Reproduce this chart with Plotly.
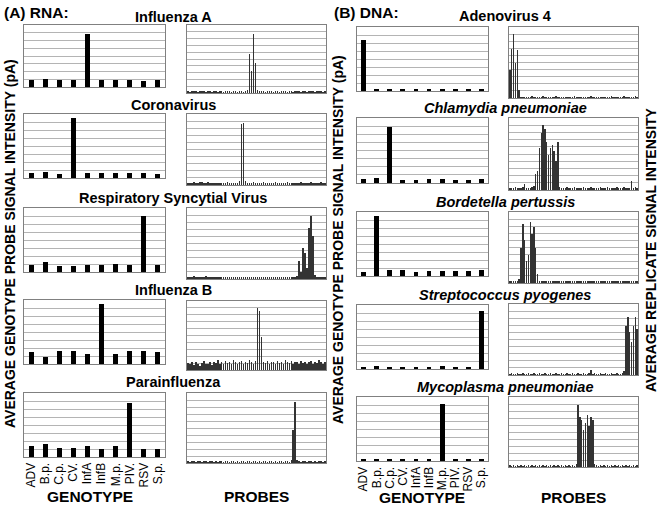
import plotly.graph_objects as go

W, H = 661, 507

genotypes = ["ADV", "B.p.", "C.p.", "CV.", "InfA", "InfB", "M.p.", "PIV.", "RSV", "S.p."]

# ---- RNA panels: genotype bars (gridline units) ----
rna_titles = ["Influenza A", "Coronavirus", "Respiratory Syncytial Virus", "Influenza B", "Parainfluenza"]
bar_infa = [0.85, 1.0, 0.85, 0.85, 6.9, 0.85, 0.9, 0.85, 0.8, 0.9]
bar_cov = [0.63, 0.75, 0.46, 7.5, 0.63, 0.63, 0.63, 0.6, 0.6, 0.5]
bar_rsv = [0.83, 1.2, 0.8, 0.7, 0.9, 0.9, 0.95, 0.83, 7.0, 0.83]
bar_infb = [1.45, 0.9, 1.6, 1.6, 1.25, 7.5, 1.3, 1.67, 1.67, 1.55]
bar_piv = [1.4, 1.6, 1.14, 1.14, 1.43, 1.05, 1.35, 6.7, 1.05, 1.05]

# ---- DNA panels: genotype bars ----
dna_titles = ["Adenovirus 4", "Chlamydia pneumoniae", "Bordetella pertussis",
              "Streptococcus pyogenes", "Mycoplasma pneumoniae"]
bar_adv = [6.4, 0.25, 0.25, 0.2, 0.25, 0.3, 0.25, 0.25, 0.3, 0.25]
bar_cp = [0.53, 0.57, 6.9, 0.4, 0.41, 0.45, 0.45, 0.4, 0.4, 0.45]
bar_bp = [0.55, 7.5, 0.7, 0.75, 0.55, 0.63, 0.67, 0.67, 0.63, 0.7]
bar_sp = [0.3, 0.35, 0.3, 0.25, 0.3, 0.3, 0.35, 0.3, 0.3, 7.25]
bar_mp = [0.2, 0.3, 0.2, 0.2, 0.2, 0.2, 7.1, 0.2, 0.2, 0.2]

# ---- probe replicate intensities (70 probes per panel) ----
probe_infa = [0.3, 0.2, 0.3, 0.25, 0.3, 0.2, 0.35, 0.3, 0.25, 0.2, 0.3, 0.3, 0.2, 0.25, 0.3, 0.2,
              0.3, 0.25, 0.2, 0.3, 0.25, 0.3, 0.2, 0.25, 0.3, 0.2, 0.3, 0.25, 0.2, 0.3, 0.4, 5.8,
              3.2, 8.7, 4.4, 0.4, 0.3, 0.25, 0.3, 0.2, 0.3, 0.25, 0.3, 0.2, 0.25, 0.3, 0.2, 0.3,
              0.25, 0.3, 0.2, 0.3, 0.25, 0.2, 0.3, 0.25, 0.3, 0.2, 0.3, 0.25, 0.2, 0.3, 0.25, 0.3,
              0.2, 0.3, 0.25, 0.3, 0.2, 0.3]
probe_cov = [0.3, 0.35, 0.3, 0.4, 0.3, 0.25, 0.4, 0.45, 0.35, 0.3, 0.4, 0.3, 0.25, 0.3, 0.35, 0.3,
             0.25, 0.3, 0.35, 0.3, 0.4, 0.3, 0.25, 0.3, 0.35, 0.3, 0.5, 8.6, 8.7, 0.5, 0.3, 0.35,
             0.3, 0.4, 0.3, 0.25, 0.35, 0.3, 0.4, 0.3, 0.3, 0.35, 0.25, 0.3, 0.4, 0.3, 0.35, 0.3,
             0.25, 0.3, 0.4, 0.3, 0.3, 0.35, 0.3, 0.25, 0.3, 0.4, 0.3, 0.35, 0.3, 0.3, 0.4, 0.3,
             0.25, 0.35, 0.3, 0.4, 0.3, 0.3]
probe_rsv = [0.3, 0.35, 0.3, 0.4, 0.35, 0.3, 0.25, 0.35, 0.3, 0.4, 0.3, 0.3, 0.25, 0.3, 0.35, 0.3,
             0.3, 0.25, 0.3, 0.35, 0.3, 0.25, 0.3, 0.3, 0.35, 0.3, 0.25, 0.3, 0.35, 0.3, 0.3, 0.25,
             0.3, 0.35, 0.3, 0.3, 0.25, 0.3, 0.35, 0.3, 0.3, 0.25, 0.3, 0.35, 0.3, 0.25, 0.3, 0.3,
             0.35, 0.3, 0.25, 0.3, 0.35, 0.3, 0.3, 0.4, 2.5, 1.0, 4.4, 3.7, 1.5, 7.2, 8.9, 6.0,
             0.5, 0.3, 0.35, 0.3, 0.25, 0.3]
probe_infb = [1.0, 0.8, 1.2, 0.7, 1.1, 0.9, 0.6, 1.0, 1.3, 0.8, 0.9, 1.2, 0.7, 1.1, 1.0, 1.4,
              0.9, 1.2, 0.8, 1.3, 1.0, 1.1, 0.9, 1.4, 1.2, 0.8, 1.1, 1.3, 0.9, 1.2, 1.0, 1.4,
              1.1, 0.9, 1.3, 9.0, 8.5, 4.8, 1.2, 1.0, 1.3, 0.9, 1.2, 1.1, 0.8, 1.3, 1.0, 1.2,
              0.9, 1.4, 1.1, 1.0, 1.3, 0.8, 1.2, 1.1, 0.9, 1.3, 1.0, 1.2, 0.8, 1.1, 1.3, 0.9,
              1.2, 1.0, 1.4, 1.1, 0.9, 1.2]
probe_piv = [0.25, 0.2, 0.3, 0.25, 0.2, 0.3, 0.25, 0.2, 0.25, 0.3, 0.2, 0.25, 0.3, 0.2, 0.25, 0.2,
             0.3, 0.25, 0.2, 0.25, 0.3, 0.2, 0.25, 0.3, 0.2, 0.25, 0.2, 0.3, 0.25, 0.2, 0.25, 0.3,
             0.2, 0.25, 0.3, 0.2, 0.25, 0.2, 0.3, 0.25, 0.2, 0.25, 0.3, 0.2, 0.25, 0.2, 0.3, 0.25,
             0.2, 0.25, 0.3, 0.2, 0.4, 4.7, 8.7, 0.4, 0.25, 0.2, 0.3, 0.25, 0.2, 0.25, 0.3, 0.2,
             0.25, 0.2, 0.3, 0.25, 0.2, 0.25]
probe_adv = [4.0, 6.9, 9.0, 4.9, 6.7, 1.1, 0.2, 0.15, 0.2, 0.15, 0.2, 0.15, 0.3, 0.15, 0.2, 0.15,
             0.2, 0.15, 0.25, 0.15, 0.2, 0.15, 0.2, 0.15, 0.2, 0.3, 0.15, 0.2, 0.15, 0.2, 0.15, 0.2,
             0.15, 0.2, 0.15, 0.25, 0.15, 0.2, 0.15, 0.2, 0.15, 0.2, 0.15, 0.2, 0.3, 0.15, 0.2, 0.15,
             0.2, 0.15, 0.2, 0.15, 0.2, 0.15, 0.2, 0.25, 0.15, 0.2, 0.15, 0.2, 0.15, 0.2, 0.3, 0.15,
             0.2, 0.15, 0.2, 0.15, 0.25, 0.2]
probe_cp = [0.3, 0.25, 0.3, 0.35, 0.3, 0.25, 0.3, 0.35, 0.8, 0.3, 0.25, 0.3, 0.35, 0.5, 2.2, 2.6,
            5.8, 7.9, 9.0, 8.5, 6.7, 4.9, 5.8, 6.3, 5.4, 4.0, 6.7, 0.4, 0.3, 0.25, 0.3, 0.35,
            0.3, 0.25, 0.3, 0.35, 0.3, 0.3, 0.25, 0.3, 0.35, 0.3, 0.25, 0.3, 0.35, 0.3, 0.3, 0.25,
            0.3, 0.35, 0.3, 0.25, 0.3, 0.35, 0.3, 0.3, 0.25, 0.3, 0.35, 0.3, 0.25, 0.3, 0.35, 0.3,
            0.3, 0.25, 1.3, 0.3, 0.35, 0.3]
probe_bp = [0.3, 0.25, 0.3, 0.25, 0.3, 0.5, 5.0, 8.3, 6.0, 3.1, 4.0, 8.6, 6.9, 7.9, 5.0, 1.2,
            0.3, 0.25, 0.3, 0.25, 0.3, 0.25, 0.3, 0.25, 0.3, 0.25, 0.3, 0.25, 0.3, 0.25, 0.3, 0.25,
            0.3, 0.25, 0.3, 0.25, 0.3, 0.25, 0.3, 0.25, 0.3, 0.25, 0.3, 0.25, 0.3, 0.25, 0.3, 0.25,
            0.3, 0.25, 0.3, 0.25, 0.3, 0.25, 0.3, 0.25, 0.3, 0.25, 0.3, 0.25, 0.3, 0.25, 0.3, 0.25,
            0.3, 0.25, 0.3, 0.25, 0.3, 0.25]
probe_sp = [0.2, 0.25, 0.2, 0.2, 0.25, 0.2, 0.2, 0.25, 0.2, 0.2, 0.25, 0.2, 0.2, 0.25, 0.2, 0.2,
            0.25, 0.2, 0.2, 0.25, 0.2, 0.2, 0.25, 0.2, 0.2, 0.25, 0.2, 0.2, 0.25, 0.2, 0.2, 0.25,
            0.2, 0.2, 0.25, 0.2, 0.2, 0.25, 0.2, 0.2, 0.25, 0.2, 0.2, 0.25, 0.7, 0.2, 0.25, 0.2,
            0.2, 0.25, 0.2, 0.2, 0.25, 0.2, 0.2, 0.25, 0.2, 0.2, 0.25, 0.2, 0.2, 0.25, 0.5, 6.9,
            8.1, 6.0, 4.7, 6.9, 8.1, 6.5]
probe_mp = [0.25, 0.2, 0.25, 0.2, 0.25, 0.2, 0.25, 0.2, 0.25, 0.2, 0.25, 0.2, 0.25, 0.2, 0.25, 0.2,
            0.25, 0.2, 0.25, 0.2, 0.25, 0.2, 0.25, 0.2, 0.25, 0.2, 0.25, 0.2, 0.25, 0.2, 0.25, 0.2,
            0.25, 0.2, 0.25, 0.2, 0.5, 8.8, 7.2, 6.7, 5.3, 6.3, 7.4, 5.8, 7.2, 6.7, 0.4, 0.25,
            0.2, 0.25, 0.2, 0.25, 0.2, 0.25, 0.2, 0.25, 0.2, 0.25, 0.2, 0.25, 0.2, 0.25, 0.2, 0.25,
            0.2, 0.25, 0.2, 0.25, 0.2, 0.25]

bars_left = [bar_infa, bar_cov, bar_rsv, bar_infb, bar_piv]
bars_right = [bar_adv, bar_cp, bar_bp, bar_sp, bar_mp]
probes_left = [probe_infa, probe_cov, probe_rsv, probe_infb, probe_piv]
probes_right = [probe_adv, probe_cp, probe_bp, probe_sp, probe_mp]

# pixel layout (top, bottom) of bar panel and probe panel per row
rows_left = [(25, 87, 25, 93), (114, 178, 114, 185), (208, 272, 208, 279),
             (300, 364, 301, 370), (393, 457, 393, 463)]
rows_right = [(27, 91, 27, 98), (118, 183, 118, 190), (212, 276, 212, 283),
              (305, 369, 304, 375), (397, 461, 397, 467)]
left_bar_x, left_probe_x = (24, 165), (187, 326)
right_bar_x, right_probe_x = (357, 488), (509, 638)
left_title_y = [17, 105, 198, 290, 382]
right_title_y = [16, 108, 202, 295, 387]

FONT = "Liberation Sans, Arial, sans-serif"

fig = go.Figure()
layout = {}
n = [0]


def xd(a, b):
    return [a / W, b / W]


def yd(t, b):
    return [1 - b / H, 1 - t / H]


def add_panel(values, xpix, ypix, kind, show_ticks):
    n[0] += 1
    k = n[0]
    xa = "x" if k == 1 else f"x{k}"
    ya = "y" if k == 1 else f"y{k}"
    xs = list(range(len(values)))
    if kind == "bar":
        fig.add_trace(go.Bar(x=xs, y=values, xaxis=xa, yaxis=ya, width=0.36,
                             marker=dict(color="black", line=dict(width=0)), showlegend=False))
        yr, dt = [0, 8], 1
    else:
        fig.add_trace(go.Bar(x=xs, y=values, xaxis=xa, yaxis=ya, width=0.75,
                             marker=dict(color="#333333", line=dict(width=0)), showlegend=False))
        yr, dt = [0, 10], 1
    xkey = "xaxis" if k == 1 else f"xaxis{k}"
    ykey = "yaxis" if k == 1 else f"yaxis{k}"
    xax = dict(domain=xd(*xpix), anchor=ya, range=[-0.5, len(values) - 0.5],
               showgrid=False, zeroline=False, showline=True, mirror=True,
               linecolor="#808080", linewidth=1, ticks="", fixedrange=True)
    if show_ticks:
        xax.update(tickmode="array", tickvals=list(range(10)), ticktext=genotypes,
                   tickangle=-90, tickfont=dict(family=FONT, size=12, color="black"),
                   showticklabels=True)
    else:
        xax.update(showticklabels=False)
    layout[xkey] = xax
    layout[ykey] = dict(domain=yd(*ypix), anchor=xa, range=yr, dtick=dt,
                        showgrid=True, gridcolor="#b4b4b4", gridwidth=1,
                        zeroline=False, showline=True, mirror=True,
                        linecolor="#808080", linewidth=1, showticklabels=False,
                        ticks="", fixedrange=True)


for i in range(5):
    bt, bb, pt, pb = rows_left[i]
    add_panel(bars_left[i], left_bar_x, (bt, bb), "bar", i == 4)
    add_panel(probes_left[i], left_probe_x, (pt, pb), "probe", False)
for i in range(5):
    bt, bb, pt, pb = rows_right[i]
    add_panel(bars_right[i], right_bar_x, (bt, bb), "bar", i == 4)
    add_panel(probes_right[i], right_probe_x, (pt, pb), "probe", False)

ann = []


def text(s, x, y, size, angle=0, xanchor="center"):
    ann.append(dict(text=s, x=x / W, y=1 - y / H, xref="paper", yref="paper",
                    showarrow=False, textangle=angle, xanchor=xanchor, yanchor="middle",
                    font=dict(family=FONT, size=size, color="black")))


for i, t in enumerate(rna_titles):
    text(f"<b>{t}</b>", 173, left_title_y[i], 14.5)
for i, t in enumerate(dna_titles):
    s = f"<b>{t}</b>" if i == 0 else f"<b><i>{t}</i></b>"
    text(s, 505, right_title_y[i], 14.5)

text("<b>(A) RNA:</b>", 2, 12, 15.5, xanchor="left")
text("<b>(B) DNA:</b>", 332, 12, 15.5, xanchor="left")
text("<b>AVERAGE GENOTYPE PROBE SIGNAL INTENSITY (pA)</b>", 10, 244, 14, angle=-90)
text("<b>AVERAGE GENOTYPE PROBE SIGNAL INTENSITY (pA)</b>", 338, 240, 14, angle=-90)
text("<b>AVERAGE REPLICATE SIGNAL INTENSITY</b>", 651, 250, 14, angle=-90)
text("<b>GENOTYPE</b>", 90, 496, 15.5)
text("<b>PROBES</b>", 256, 496, 15.5)
text("<b>GENOTYPE</b>", 422, 497, 15.5)
text("<b>PROBES</b>", 573, 497, 15.5)

fig.update_layout(width=W, height=H, margin=dict(l=0, r=0, t=0, b=0),
                  paper_bgcolor="white", plot_bgcolor="white", bargap=0,
                  showlegend=False, annotations=ann, hovermode=False, **layout)

fig.write_html("out.html", config={"displayModeBar": False, "staticPlot": True},
               post_script="document.body.style.margin='0px';")
